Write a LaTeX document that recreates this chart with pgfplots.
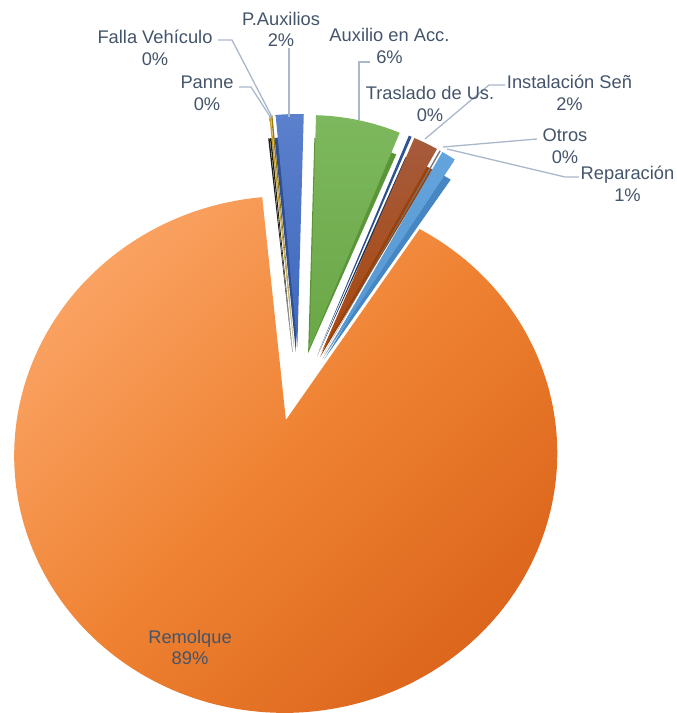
\documentclass[border=0pt]{standalone}
\usepackage{fontspec}
\setmainfont{Liberation Sans}
\usepackage{pgfplots}
\pgfplotsset{compat=1.18}

\definecolor{txt}{HTML}{44546A}
\definecolor{lead}{HTML}{A9B7CA}
\definecolor{RemA}{HTML}{FAA262}
\definecolor{RemM}{HTML}{EF8232}
\definecolor{RemB}{HTML}{DC661C}
\definecolor{PAuxA}{HTML}{5B80CC}
\definecolor{PAuxB}{HTML}{3E68BD}
\definecolor{PAuxS}{HTML}{2F4F8F}
\definecolor{AuxA}{HTML}{7DB85E}
\definecolor{AuxB}{HTML}{6AA746}
\definecolor{AuxS}{HTML}{5A9638}
\definecolor{TraA}{HTML}{2F5597}
\definecolor{TraB}{HTML}{264478}
\definecolor{TraS}{HTML}{1A3158}
\definecolor{InsA}{HTML}{A65B3C}
\definecolor{InsB}{HTML}{A8470E}
\definecolor{InsS}{HTML}{9A420C}
\definecolor{OtrA}{HTML}{7A7A7A}
\definecolor{OtrB}{HTML}{636363}
\definecolor{OtrS}{HTML}{454545}
\definecolor{RepA}{HTML}{64A4DC}
\definecolor{RepB}{HTML}{5496D2}
\definecolor{RepS}{HTML}{4686C2}
\definecolor{PanA}{HTML}{9A7A10}
\definecolor{PanB}{HTML}{806000}
\definecolor{PanS}{HTML}{2A2200}
\definecolor{FalA}{HTML}{C9A030}
\definecolor{FalB}{HTML}{B08A10}
\definecolor{FalS}{HTML}{202020}

\tikzset{
  lbl/.style={font=\fontsize{9.15pt}{10.9pt}\selectfont, text=txt, align=center, inner sep=0pt},
  lead/.style={draw=lead, line width=0.65pt},
}

% ---- data: share of each category (percent), clockwise order ----
\newcommand\vFalla{0.1}  % Falla Vehiculo
\newcommand\vPanne{0.1}  % Panne
\newcommand\vPAux{1.9}   % P.Auxilios
\newcommand\vAux{5.8}    % Auxilio en Acc.
\newcommand\vTras{0.2}   % Traslado de Us.
\newcommand\vInst{1.7}   % Instalacion Sen
\newcommand\vOtros{0.1}  % Otros
\newcommand\vRep{1.0}    % Reparacion
\newcommand\vRem{89.1}   % Remolque

% cumulative angles (degrees, clockwise from 12 o'clock)
\pgfmathsetmacro\aFalla{-6.0}
\pgfmathsetmacro\bFalla{\aFalla+3.6*\vFalla}
\pgfmathsetmacro\bPanne{\bFalla+3.6*\vPanne}
\pgfmathsetmacro\bPAux{\bPanne+3.6*\vPAux}
\pgfmathsetmacro\bAux{\bPAux+3.6*\vAux}
\pgfmathsetmacro\bTras{\bAux+3.6*\vTras}
\pgfmathsetmacro\bInst{\bTras+3.6*\vInst}
\pgfmathsetmacro\bOtros{\bInst+3.6*\vOtros}
\pgfmathsetmacro\bRep{\bOtros+3.6*\vRep}
\pgfmathsetmacro\bRem{\bRep+3.6*\vRem}

% geometry of the drawing (pixel units)
\def\Ox{299}\def\Oy{315}\def\Ee{51}\def\Rx{236}\def\Ry{233}
\def\PX{295.4}\def\PY{329.3}\def\PA{244.2}\def\PB{264}\def\PK{0.131}\def\Eps{0.15}

\newcommand\smallslice[5]{%
  \pgfmathsetmacro\mm{(#1+#2)/2}%
  \pgfmathsetmacro\apx{\Ox+\Ee*sin(\mm)}%
  \pgfmathsetmacro\apy{\Oy+\Ee*cos(\mm)}%
  \pgfmathsetmacro\spx{\apx-1.5}%
  \pgfmathsetmacro\spy{\apy-5}%
  \pgfmathsetmacro\srx{\Rx-5}%
  \pgfmathsetmacro\sry{\Ry-18}%
  \edef\doit{%
    \noexpand\addplot[fill=#5, draw=none, domain=#1:#2, samples=30]
      ({\spx+\srx*sin(x)},{\spy+\sry*cos(x)}) -- (axis cs:\spx,\spy) -- cycle;
    \noexpand\addplot[draw=none, top color=#3, bottom color=#4, domain=#1:#2, samples=30]
      ({\apx+\Rx*sin(x)},{\apy+\Ry*cos(x)}) -- (axis cs:\apx,\apy) -- cycle;
  }\doit}

\begin{document}
\begin{tikzpicture}
\begin{axis}[
  width=338pt, height=356.5pt, scale only axis,
  xmin=0, xmax=676, ymin=0, ymax=713,
  axis line style={draw=none}, ticks=none,
]
% Remolque (large exploded slice, perspective)
\pgfmathsetmacro\mR{(\bRep+\bRem)/2}
\pgfmathsetmacro\cp{\Eps*sin(\mR)}
\pgfmathsetmacro\cq{\Eps*cos(\mR)}
\pgfmathsetmacro\rax{\PX+\PB*\cp/(1+\PK*\cq)}
\pgfmathsetmacro\ray{\PY+\PA*\cq/(1+\PK*\cq)}
\edef\doit{\noexpand\addplot[draw=none, top color=RemA, bottom color=RemB, middle color=RemM, shading angle=45, domain=\bRep:\bRem, samples=240]
  ({\PX+\PB*(\cp+sin(x))/(1+\PK*(\cq+cos(x)))},{\PY+\PA*(\cq+cos(x))/(1+\PK*(\cq+cos(x)))}) -- (axis cs:\rax,\ray) -- cycle;}
\doit

\smallslice{\aFalla}{\bFalla}{FalA}{FalB}{FalS}
\smallslice{\bFalla}{\bPanne}{PanA}{PanB}{PanS}
\smallslice{\bPanne}{\bPAux}{PAuxA}{PAuxB}{PAuxS}
\smallslice{\bPAux}{\bAux}{AuxA}{AuxB}{AuxS}
\smallslice{\bAux}{\bTras}{TraA}{TraB}{TraS}
\smallslice{\bTras}{\bInst}{InsA}{InsB}{InsS}
\smallslice{\bInst}{\bOtros}{OtrA}{OtrB}{OtrS}
\smallslice{\bOtros}{\bRep}{RepA}{RepB}{RepS}

% leader lines
\addplot[lead, mark=none] coordinates {(218,673) (232,673) (272,596)};
\addplot[lead, mark=none] coordinates {(239,626) (251,626) (271,595)};
\addplot[lead, mark=none] coordinates {(289,665) (289,596)};
\addplot[lead, mark=none] coordinates {(370,651) (359,651) (359,593)};
\addplot[lead, mark=none] coordinates {(505,628) (489,628) (425,574)};
\addplot[lead, mark=none] coordinates {(537,574) (443,566)};
\addplot[lead, mark=none] coordinates {(579,536) (565,536) (447,564)};

% labels
\node[lbl] at (axis cs:155,665) {Falla Vehículo\\0\%};
\node[lbl] at (axis cs:281,683.5) {P.Auxilios\\2\%};
\node[lbl] at (axis cs:207,620) {Panne\\0\%};
\node[lbl] at (axis cs:389.5,667) {Auxilio en Acc.\\6\%};
\node[lbl] at (axis cs:430,609) {Traslado de Us.\\0\%};
\node[lbl] at (axis cs:569.5,620.5) {Instalación Señ\\2\%};
\node[lbl] at (axis cs:565,566.5) {Otros\\0\%};
\node[lbl] at (axis cs:627.5,529) {Reparación\\1\%};
\node[lbl] at (axis cs:190,65.5) {Remolque\\89\%};
\end{axis}
\end{tikzpicture}
\end{document}
